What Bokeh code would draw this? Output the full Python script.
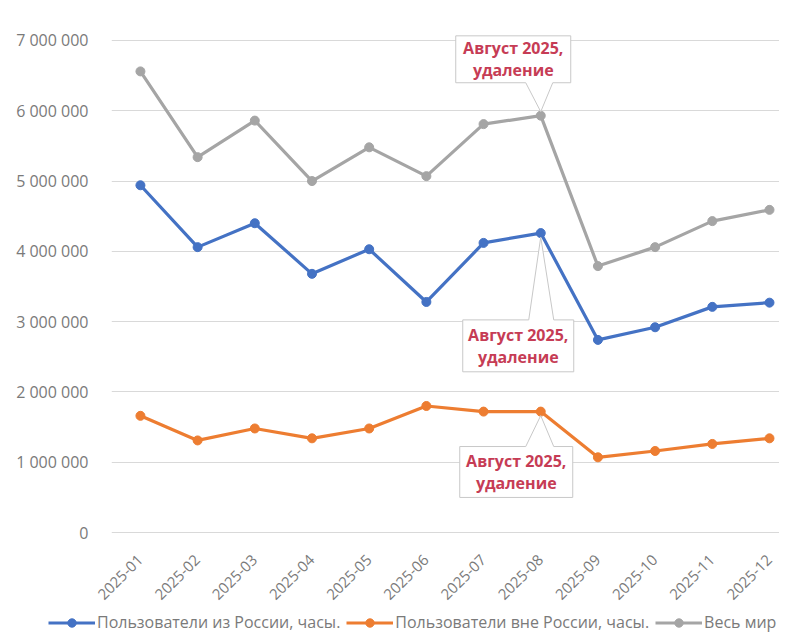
from bokeh.plotting import figure
from bokeh.models import Range1d, FixedTicker, Legend, LegendItem
from bokeh.layouts import column
from bokeh.core.properties import value
from bokeh.embed import file_html
from bokeh.resources import INLINE

# ---- data ----
months = ["2025-01", "2025-02", "2025-03", "2025-04", "2025-05", "2025-06",
          "2025-07", "2025-08", "2025-09", "2025-10", "2025-11", "2025-12"]
russia = [4.94e6, 4.06e6, 4.40e6, 3.68e6, 4.03e6, 3.28e6,
          4.12e6, 4.26e6, 2.74e6, 2.92e6, 3.21e6, 3.27e6]
abroad = [1.66e6, 1.31e6, 1.48e6, 1.34e6, 1.48e6, 1.80e6,
          1.72e6, 1.72e6, 1.07e6, 1.16e6, 1.26e6, 1.34e6]
world = [6.56e6, 5.34e6, 5.86e6, 5.00e6, 5.48e6, 5.07e6,
         5.81e6, 5.93e6, 3.79e6, 4.06e6, 4.43e6, 4.59e6]
series_names = ["Пользователи из России, часы.", "Пользователи вне России, часы.", "Весь мир"]
y_ticks = [0, 1e6, 2e6, 3e6, 4e6, 5e6, 6e6, 7e6]
y_tick_labels = ["0", "1 000 000", "2 000 000", "3 000 000", "4 000 000",
                 "5 000 000", "6 000 000", "7 000 000"]
callout_lines = ["Август 2025,", "удаление"]
callout_month = "2025-08"

# ---- styles ----
BLUE, ORANGE, GRAY = "#4472C4", "#ED7D31", "#A5A5A5"
COLORS = [BLUE, ORANGE, GRAY]
TXT = "#7a7a7a"
RED = "#C63C55"
FONT = "Open Sans"

W, H, HL = 779, 607, 26
BL, BR, BT, BB = 111, 0, 16, 69
X0, X1 = 0.494, 12.175
Y0, Y1 = -0.071e6, 7.341e6
fw, fh = W - BL - BR, H - BT - BB
sx = fw / (X1 - X0)   # px per x unit
sy = fh / (Y1 - Y0)   # px per y unit

xs = list(range(1, len(months) + 1))

p = figure(width=W, height=H, output_backend="svg", toolbar_location=None,
           x_range=Range1d(X0, X1), y_range=Range1d(Y0, Y1),
           min_border_left=BL, min_border_right=BR, min_border_top=BT,
           min_border_bottom=BB)
p.frame_align = False
p.background_fill_color = "white"
p.border_fill_color = "white"
p.outline_line_color = None

p.xgrid.grid_line_color = None
p.ygrid.grid_line_color = "#D9D9D9"
p.ygrid.grid_line_width = 1

p.yaxis.ticker = FixedTicker(ticks=y_ticks)
p.yaxis.major_label_overrides = {t: l for t, l in zip(y_ticks, y_tick_labels)}
p.xaxis.ticker = FixedTicker(ticks=xs)
p.xaxis.major_label_overrides = {x: m for x, m in zip(xs, months)}
p.xaxis.major_label_orientation = 0.785398
for ax in (p.xaxis, p.yaxis):
    ax.axis_line_color = None
    ax.major_tick_line_color = None
    ax.minor_tick_line_color = None
    ax.major_label_text_color = TXT
    ax.major_label_text_font = FONT
p.yaxis.major_label_text_font_size = "16px"
p.xaxis.major_label_text_font_size = "15px"
p.yaxis.major_label_standoff = 17
p.xaxis.major_label_standoff = 14

for vals, col in zip([russia, abroad, world], COLORS):
    p.line(xs, vals, line_color=col, line_width=3.2)
    p.scatter(xs, vals, size=9, fill_color=col, line_color=col)

# ---- callouts (box + wedge) ----
i8 = months.index(callout_month)
cx = xs[i8]
callouts = [
    # value, box centre offset (px, y up), box w, h, wedge base x offsets
    (world[i8], -27.5, 56.5, 115, 47, -15, 12),
    (russia[i8], -22.5, -113, 111, 52, -12, 13),
    (abroad[i8], -24.5, -60.5, 113, 51, -15, 13),
]
polys_x, polys_y = [], []
tx, ty, tt = [], [], []
for val, dx, dy, bw, bh, b1, b2 in callouts:
    L, R = dx - bw / 2, dx + bw / 2
    T, B = dy + bh / 2, dy - bh / 2
    if dy > 0:   # box above point, wedge on bottom edge
        pts = [(L, T), (R, T), (R, B), (b2, B), (0, 4), (b1, B), (L, B)]
    else:        # box below point, wedge on top edge
        pts = [(L, T), (b1, T), (0, -4), (b2, T), (R, T), (R, B), (L, B)]
    polys_x.append([cx + px / sx for px, _ in pts])
    polys_y.append([val + py / sy for _, py in pts])
    for k, line in enumerate(callout_lines):
        tx.append(cx + dx / sx)
        ty.append(val + (dy + (11 if k == 0 else -11)) / sy)
        tt.append(line)

p.patches(polys_x, polys_y, fill_color="white", line_color="#C8C8C8", line_width=1)
p.text(tx, ty, text=tt, text_align="center", text_baseline="middle",
       text_font=value(FONT), text_font_style="bold", text_font_size="16px",
       text_color=RED)

# ---- legend strip below the chart ----
lg = figure(width=W, height=HL, output_backend="svg", toolbar_location=None,
            x_range=Range1d(0, 1), y_range=Range1d(0, 1),
            min_border=0, x_axis_location=None, y_axis_location=None)
lg.frame_align = False
lg.grid.visible = False
lg.outline_line_color = None
lg.background_fill_color = "white"
lg.border_fill_color = "white"
items = []
for name, col in zip(series_names, COLORS):
    # swatch-only renderers, placed outside the visible range of this strip
    r1 = lg.line([5, 6], [5, 6], line_color=col, line_width=3.2)
    r2 = lg.scatter([5], [5], size=9, fill_color=col, line_color=col)
    items.append(LegendItem(label=name, renderers=[r1, r2]))
legend = Legend(items=items, orientation="horizontal", location=(48, 0),
                glyph_width=47, glyph_height=21, label_standoff=2, spacing=6,
                padding=2, margin=0, border_line_color=None,
                background_fill_alpha=0,
                label_text_font=FONT, label_text_font_size="16px",
                label_text_color=TXT)
lg.add_layout(legend, "center")

layout = column(p, lg, spacing=0)
open("out.html", "w").write(file_html(layout, INLINE))
